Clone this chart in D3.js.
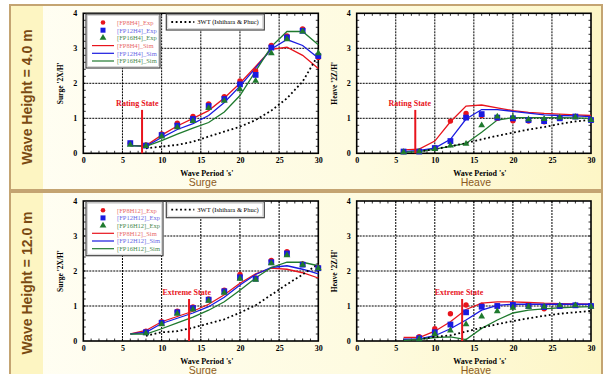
<!DOCTYPE html>
<html>
<head>
<meta charset="utf-8">
<script src="https://cdn.jsdelivr.net/npm/d3@7"></script>
<style>
  body { margin: 0; background: #fff; }
  svg { display: block; }
</style>
</head>
<body>
<div id="root"></div>
<script>
// ---------------------------------------------------------------
// Data (period in s, response ratio)
const periods = [6, 8, 10, 12, 14, 16, 18, 20, 22, 24, 26, 28, 30];
const periodsExpH12 = [8, 10, 12, 14, 16, 18, 20, 22, 24, 26, 28, 30];
const periodsRef = [8, 10, 12, 14, 16, 18, 20, 22, 24, 26, 28, 30];
const xTicks = [0, 5, 10, 15, 20, 25, 30];
const yTicks = [0, 1, 2, 3, 4];

// Wave height 4.0 m - surge
const surgeH4Exp8  = [0.29, 0.24, 0.55, 0.86, 1.05, 1.41, 1.62, 2.07, 2.35, 3.08, 3.35, 3.55, 2.74];
const surgeH4Exp12 = [0.29, 0.22, 0.52, 0.79, 0.98, 1.35, 1.55, 1.97, 2.24, 3.02, 3.31, 3.50, 2.78];
const surgeH4Exp16 = [0.24, 0.21, 0.48, 0.74, 0.92, 1.29, 1.50, 1.83, 2.07, 2.86, 3.26, 3.48, 2.86];
const surgeH4Sim8  = [0.22, 0.22, 0.52, 0.78, 1.00, 1.22, 1.58, 2.00, 2.48, 2.97, 3.03, 2.80, 2.42];
const surgeH4Sim12 = [0.22, 0.20, 0.45, 0.68, 0.85, 1.08, 1.45, 1.92, 2.44, 2.98, 3.25, 3.08, 2.72];
const surgeH4Sim16 = [0.22, 0.20, 0.36, 0.55, 0.72, 0.88, 1.18, 1.65, 2.35, 3.05, 3.48, 3.48, 3.10];
const surgeH4Ref   = [0.14, 0.19, 0.24, 0.33, 0.48, 0.62, 0.76, 0.95, 1.22, 1.57, 2.05, 2.81];

// Wave height 4.0 m - heave
const heaveH4Exp8  = [0.05, 0.06, 0.15, 0.92, 1.14, 1.08, 1.00, 0.93, 0.92, 0.90, 1.00, 1.05, 0.95];
const heaveH4Exp12 = [0.05, 0.05, 0.15, 0.35, 1.02, 1.12, 1.02, 1.00, 0.95, 0.92, 1.00, 1.05, 0.95];
const heaveH4Exp16 = [0.03, 0.05, 0.12, 0.22, 0.27, 0.80, 1.05, 1.03, 0.97, 0.98, 1.02, 1.03, 0.95];
const heaveH4Sim8  = [0.10, 0.12, 0.35, 0.90, 1.35, 1.38, 1.30, 1.22, 1.17, 1.14, 1.12, 1.10, 1.08];
const heaveH4Sim12 = [0.05, 0.08, 0.15, 0.40, 0.98, 1.25, 1.25, 1.20, 1.15, 1.10, 1.08, 1.07, 1.05];
const heaveH4Sim16 = [0.03, 0.05, 0.12, 0.20, 0.28, 0.60, 0.95, 1.02, 1.02, 1.02, 1.02, 1.01, 1.00];
const heaveH4Ref   = [0.05, 0.12, 0.20, 0.29, 0.40, 0.50, 0.59, 0.68, 0.75, 0.84, 0.91, 0.96];

// Wave height 12.0 m - surge
const surgeH12Exp8  = [0.28, 0.55, 0.85, 0.97, 1.20, 1.45, 1.90, 1.80, 2.30, 2.55, 2.20, 2.10];
const surgeH12Exp12 = [0.25, 0.52, 0.82, 0.94, 1.18, 1.42, 1.82, 1.78, 2.25, 2.50, 2.18, 2.08];
const surgeH12Exp16 = [0.22, 0.48, 0.78, 0.90, 1.15, 1.38, 1.78, 1.75, 2.22, 2.45, 2.18, 2.08];
const surgeH12Sim8  = [0.20, 0.30, 0.55, 0.70, 0.85, 1.05, 1.32, 1.65, 1.92, 2.08, 2.05, 1.95, 1.80];
const surgeH12Sim12 = [0.20, 0.25, 0.50, 0.65, 0.80, 0.98, 1.25, 1.60, 1.90, 2.10, 2.15, 2.05, 1.92];
const surgeH12Sim16 = [0.20, 0.20, 0.35, 0.52, 0.68, 0.88, 1.12, 1.45, 1.80, 2.10, 2.25, 2.25, 2.15];
const surgeH12Ref   = [0.15, 0.25, 0.28, 0.38, 0.50, 0.62, 0.81, 1.02, 1.32, 1.62, 1.90, 2.20];

// Wave height 12.0 m - heave
const heaveH12Exp8  = [0.12, 0.35, 0.78, 1.03, 1.02, 1.00, 1.02, 1.02, 0.92, 1.00, 1.02, 1.00];
const heaveH12Exp12 = [0.08, 0.25, 0.47, 0.82, 0.98, 1.00, 1.03, 1.00, 0.97, 1.00, 1.02, 1.00];
const heaveH12Exp16 = [0.05, 0.20, 0.30, 0.48, 0.70, 0.85, 0.95, 0.98, 0.98, 1.02, 1.02, 0.98];
const heaveH12Sim8  = [0.10, 0.10, 0.28, 0.55, 0.90, 1.08, 1.12, 1.12, 1.10, 1.08, 1.07, 1.06, 1.05];
const heaveH12Sim12 = [0.05, 0.06, 0.15, 0.35, 0.60, 0.88, 1.02, 1.05, 1.05, 1.05, 1.05, 1.05, 1.05];
const heaveH12Sim16 = [0.02, 0.05, 0.10, 0.12, 0.04, 0.36, 0.60, 0.80, 0.88, 0.92, 0.95, 0.97, 0.98];
const heaveH12Ref   = [0.05, 0.12, 0.16, 0.27, 0.38, 0.48, 0.57, 0.65, 0.72, 0.78, 0.82, 0.86];

const namesH4  = ["[FP8H4]_Exp", "[FP12H4]_Exp", "[FP16H4]_Exp", "[FP8H4]_Sim", "[FP12H4]_Sim", "[FP16H4]_Sim"];
const namesH12 = ["[FP8H12]_Exp", "[FP12H12]_Exp", "[FP16H12]_Exp", "[FP8H12]_Sim", "[FP12H12]_Sim", "[FP16H12]_Sim"];
const refName = "3WT (Ishihara & Phuc)";

// ---------------------------------------------------------------
const W = 609, H = 374;
const red = "#e8141c", blue = "#1a1ae0", green = "#1f7a2e";
const redTxt = "#e86a6a", blueTxt = "#6a6ae6", greenTxt = "#4a8a50";
const serif = "'Liberation Serif', 'Times New Roman', serif";
const sans = "'Liberation Sans', Arial, sans-serif";

const svg = d3.select("#root").append("svg")
  .attr("width", W).attr("height", H)
  .attr("viewBox", `0 0 ${W} ${H}`);

const defs = svg.append("defs");
const grad = defs.append("linearGradient").attr("id", "bgGrad")
  .attr("x1", "0").attr("x2", "1").attr("y1", "0").attr("y2", "0");
grad.append("stop").attr("offset", "0%").attr("stop-color", "#fffef4");
grad.append("stop").attr("offset", "60%").attr("stop-color", "#fefbe0");
grad.append("stop").attr("offset", "100%").attr("stop-color", "#fdf6c6");

// panel frames
[[5, 185], [192, 190]].forEach(([py, ph]) => {
  svg.append("rect").attr("x", 10).attr("y", py).attr("width", 592).attr("height", ph)
    .attr("fill", "url(#bgGrad)").attr("stroke", "#c4a472").attr("stroke-width", 2);
  svg.append("rect").attr("x", 11).attr("y", py + 1).attr("width", 32).attr("height", ph - 2)
    .attr("fill", "#fdf5c2");
});

svg.append("text").text("Wave Height = 4.0 m")
  .attr("transform", "translate(32,97) rotate(-90)")
  .attr("text-anchor", "middle").attr("font-family", sans).attr("font-weight", "bold")
  .attr("font-size", 14).attr("fill", "#7a4a12");
svg.append("text").text("Wave Height = 12.0 m")
  .attr("transform", "translate(32,283) rotate(-90)")
  .attr("text-anchor", "middle").attr("font-family", sans).attr("font-weight", "bold")
  .attr("font-size", 14).attr("fill", "#7a4a12");

function drawPlot(o) {
  const x = d3.scaleLinear().domain([0, 30]).range([o.x, o.x + o.w]);
  const y = d3.scaleLinear().domain([0, 4]).range([o.y + o.h, o.y]);
  const g = svg.append("g");

  g.append("rect").attr("x", o.x).attr("y", o.y).attr("width", o.w).attr("height", o.h)
    .attr("fill", "#fff");

  // grid
  g.selectAll(".gx").data(xTicks.slice(1, -1)).enter().append("line")
    .attr("x1", d => x(d)).attr("x2", d => x(d)).attr("y1", o.y).attr("y2", o.y + o.h)
    .attr("stroke", "#000").attr("stroke-width", 1).attr("stroke-dasharray", "2,1");
  g.selectAll(".gy").data(yTicks.slice(1, -1)).enter().append("line")
    .attr("y1", d => y(d)).attr("y2", d => y(d)).attr("x1", o.x).attr("x2", o.x + o.w)
    .attr("stroke", "#000").attr("stroke-width", 1).attr("stroke-dasharray", "2,1");

  // minor ticks (inward)
  g.selectAll(".mx").data(d3.range(1, 30)).enter().append("line")
    .attr("x1", d => x(d)).attr("x2", d => x(d))
    .attr("y1", o.y + o.h).attr("y2", o.y + o.h - 2.5)
    .attr("stroke", "#000").attr("stroke-width", 0.8);
  g.selectAll(".mx2").data(d3.range(1, 30)).enter().append("line")
    .attr("x1", d => x(d)).attr("x2", d => x(d))
    .attr("y1", o.y).attr("y2", o.y + 2.5)
    .attr("stroke", "#000").attr("stroke-width", 0.8);
  g.selectAll(".my").data(d3.range(0.2, 4, 0.2)).enter().append("line")
    .attr("y1", d => y(d)).attr("y2", d => y(d))
    .attr("x1", o.x).attr("x2", o.x + 2.5)
    .attr("stroke", "#000").attr("stroke-width", 0.8);
  g.selectAll(".my2").data(d3.range(0.2, 4, 0.2)).enter().append("line")
    .attr("y1", d => y(d)).attr("y2", d => y(d))
    .attr("x1", o.x + o.w).attr("x2", o.x + o.w - 2.5)
    .attr("stroke", "#000").attr("stroke-width", 0.8);

  // axes labels
  const xAxis = g.append("g").attr("transform", `translate(0,${o.y + o.h})`)
    .call(d3.axisBottom(x).tickValues(xTicks).tickFormat(d3.format("d")).tickSize(0).tickPadding(4));
  const yAxis = g.append("g").attr("transform", `translate(${o.x},0)`)
    .call(d3.axisLeft(y).tickValues(yTicks).tickFormat(d3.format("d")).tickSize(0).tickPadding(6));
  [xAxis, yAxis].forEach(a => {
    a.select(".domain").remove();
    a.selectAll("text").attr("font-family", serif).attr("font-weight", "bold")
      .attr("font-size", 8).attr("fill", "#000");
  });

  // frame
  g.append("rect").attr("x", o.x).attr("y", o.y).attr("width", o.w).attr("height", o.h)
    .attr("fill", "none").attr("stroke", "#000").attr("stroke-width", 1.6);

  const lineGen = xs => d3.line().x((d, i) => x(xs[i])).y(d => y(d));

  // simulation lines
  [[o.sim[0], red], [o.sim[1], blue], [o.sim[2], green]].forEach(([vals, c]) => {
    g.append("path").datum(vals).attr("d", lineGen(periods))
      .attr("fill", "none").attr("stroke", c).attr("stroke-width", 1.3);
  });

  // 3WT reference
  g.append("path").datum(o.ref).attr("d", lineGen(periodsRef))
    .attr("fill", "none").attr("stroke", "#000").attr("stroke-width", 1.8)
    .attr("stroke-dasharray", "1.8,2.6");

  // experiment markers
  const ex = o.expX;
  g.selectAll(".e8").data(o.exp[0]).enter().append("circle")
    .attr("cx", (d, i) => x(ex[i])).attr("cy", d => y(d)).attr("r", 2.7).attr("fill", red);
  g.selectAll(".e12").data(o.exp[1]).enter().append("rect")
    .attr("x", (d, i) => x(ex[i]) - 2.9).attr("y", d => y(d) - 2.9)
    .attr("width", 5.8).attr("height", 5.8).attr("fill", blue);
  const tri = d3.symbol().type(d3.symbolTriangle).size(20);
  g.selectAll(".e16").data(o.exp[2]).enter().append("path")
    .attr("d", tri).attr("transform", (d, i) => `translate(${x(ex[i])},${y(d)})`)
    .attr("fill", green);

  // state marker
  g.append("line").attr("x1", x(o.state.at)).attr("x2", x(o.state.at))
    .attr("y1", y(0)).attr("y2", y(o.state.top))
    .attr("stroke", red).attr("stroke-width", 2);
  g.append("text").text(o.state.label)
    .attr("x", x(o.state.textAt)).attr("y", y(o.state.top) - 4)
    .attr("text-anchor", "middle").attr("font-family", serif).attr("font-weight", "bold")
    .attr("font-size", 8).attr("fill", red);

  // titles
  g.append("text").text("Wave Period 's'")
    .attr("x", o.x + o.w / 2 + 6).attr("y", o.y + o.h + 22.5)
    .attr("text-anchor", "middle").attr("font-family", serif).attr("font-weight", "bold")
    .attr("font-size", 8).attr("fill", "#000");
  g.append("text").text(o.yTitle)
    .attr("transform", `translate(${o.x - 20},${o.y + 70}) rotate(-90)`)
    .attr("text-anchor", "middle").attr("font-family", serif).attr("font-weight", "bold")
    .attr("font-size", 7.5).attr("fill", "#000");
  g.append("text").text(o.caption)
    .attr("x", o.x + o.w / 2 + 2).attr("y", o.y + o.h + 33)
    .attr("text-anchor", "middle").attr("font-family", sans)
    .attr("font-size", 10.5).attr("fill", "#8b5a22");

  if (o.names) {
    const lx = o.x + 2.7, ly = o.y + 0.7, lw = o.names[0].length > 11 ? 77 : 74, lh = 54;
    g.append("rect").attr("x", lx).attr("y", ly).attr("width", lw).attr("height", lh)
      .attr("fill", "#fff").attr("stroke", "#444").attr("stroke-width", 1.2);
    g.append("rect").attr("x", lx + 1.5).attr("y", ly + 1.5).attr("width", lw - 3).attr("height", lh - 3)
      .attr("fill", "none").attr("stroke", "#bbb").attr("stroke-width", 0.6);
    const cols = [red, blue, green, red, blue, green];
    const tcols = [redTxt, blueTxt, greenTxt, redTxt, blueTxt, greenTxt];
    o.names.forEach((n, i) => {
      const yy = ly + 8.5 + i * 7.7;
      const mx = lx + 17;
      if (i === 0) g.append("circle").attr("cx", mx).attr("cy", yy).attr("r", 2.3).attr("fill", red);
      if (i === 1) g.append("rect").attr("x", mx - 2.5).attr("y", yy - 2.5).attr("width", 5).attr("height", 5).attr("fill", blue);
      if (i === 2) g.append("path").attr("d", tri).attr("transform", `translate(${mx},${yy})`).attr("fill", green);
      if (i > 2) g.append("line").attr("x1", lx + 6).attr("x2", lx + 28).attr("y1", yy).attr("y2", yy)
        .attr("stroke", cols[i]).attr("stroke-width", 1.2);
      g.append("text").text(n).attr("x", lx + 31).attr("y", yy + 2.3)
        .attr("font-family", serif).attr("font-size", 6.5).attr("fill", tcols[i]);
    });
    const rx = o.x + 83, rw = 98;
    g.append("rect").attr("x", rx).attr("y", ly).attr("width", rw).attr("height", 16)
      .attr("fill", "#fff").attr("stroke", "#444").attr("stroke-width", 1.2);
    g.append("rect").attr("x", rx + 1.5).attr("y", ly + 1.5).attr("width", rw - 3).attr("height", 13)
      .attr("fill", "none").attr("stroke", "#bbb").attr("stroke-width", 0.6);
    g.append("line").attr("x1", rx + 5).attr("x2", rx + 28).attr("y1", ly + 8).attr("y2", ly + 8)
      .attr("stroke", "#000").attr("stroke-width", 1.8).attr("stroke-dasharray", "1.8,2.6");
    g.append("text").text(refName).attr("x", rx + 31).attr("y", ly + 10.3)
      .attr("font-family", serif).attr("font-size", 6.5).attr("fill", "#000");
  }
}

const surgeX = 83.3, heaveX = 356.7, plotW = 235, plotH = 140;

drawPlot({ x: surgeX, y: 13.3, w: plotW, h: plotH, expX: periods,
  exp: [surgeH4Exp8, surgeH4Exp12, surgeH4Exp16], sim: [surgeH4Sim8, surgeH4Sim12, surgeH4Sim16],
  ref: surgeH4Ref, yTitle: "Surge '2X/H'", caption: "Surge", names: namesH4,
  state: { label: "Rating State", at: 7.5, top: 1.24, textAt: 6.9 } });
drawPlot({ x: heaveX, y: 13.3, w: plotW - 0.7, h: plotH, expX: periods,
  exp: [heaveH4Exp8, heaveH4Exp12, heaveH4Exp16], sim: [heaveH4Sim8, heaveH4Sim12, heaveH4Sim16],
  ref: heaveH4Ref, yTitle: "Heave '2Z/H'", caption: "Heave",
  state: { label: "Rating State", at: 7.5, top: 1.24, textAt: 6.8 } });
drawPlot({ x: surgeX, y: 201, w: plotW, h: plotH, expX: periodsExpH12,
  exp: [surgeH12Exp8, surgeH12Exp12, surgeH12Exp16], sim: [surgeH12Sim8, surgeH12Sim12, surgeH12Sim16],
  ref: surgeH12Ref, yTitle: "Surge '2X/H'", caption: "Surge", names: namesH12,
  state: { label: "Extreme State", at: 13.5, top: 1.2, textAt: 13.2 } });
drawPlot({ x: heaveX, y: 201, w: plotW - 0.7, h: plotH, expX: periodsExpH12,
  exp: [heaveH12Exp8, heaveH12Exp12, heaveH12Exp16], sim: [heaveH12Sim8, heaveH12Sim12, heaveH12Sim16],
  ref: heaveH12Ref, yTitle: "Heave '2Z/H'", caption: "Heave",
  state: { label: "Extreme State", at: 13.5, top: 1.2, textAt: 13.1 } });
</script>
</body>
</html>
